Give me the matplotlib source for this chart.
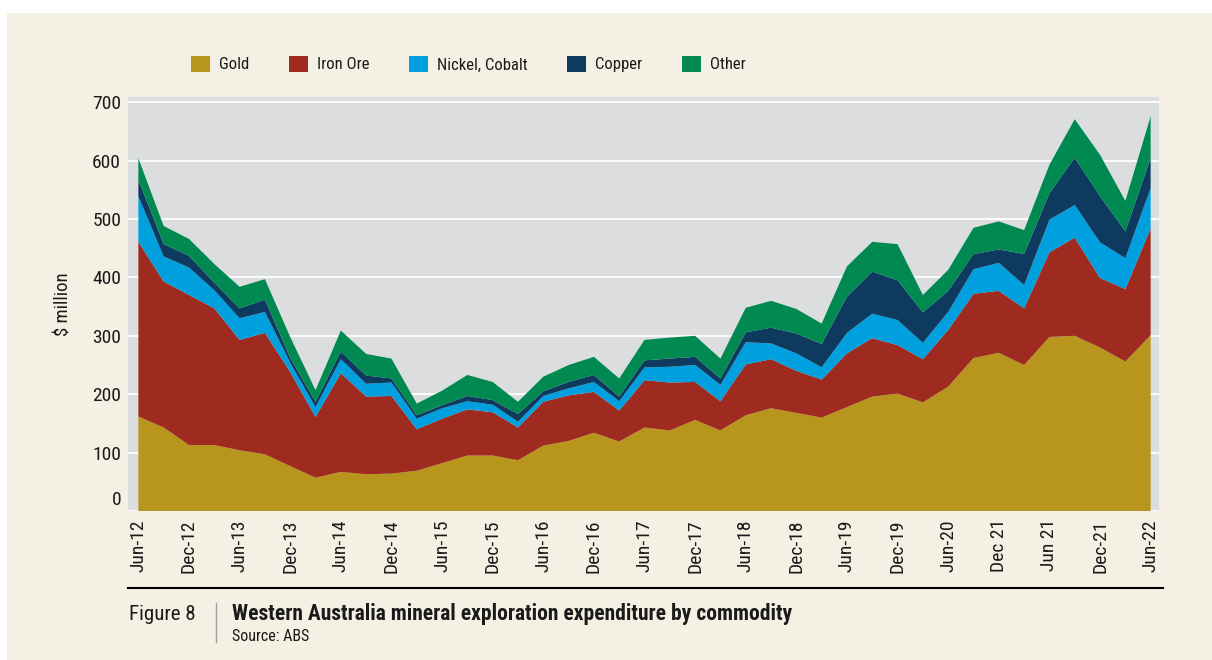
import matplotlib.pyplot as plt
import matplotlib.transforms as mtransforms
from matplotlib.patches import Rectangle, Patch
import numpy as np

# narrow sans like the original
plt.rcParams['font.family'] = ['Roboto Condensed', 'Liberation Sans', 'DejaVu Sans']

# quarterly data, Jun-12 .. Jun-22 ($ million)
gold = [162, 143, 113, 113, 104, 97, 77, 57, 67, 63, 64, 69, 82, 95, 95, 87, 112, 120, 134, 119,
        143, 138, 156, 138, 164, 176, 168, 160, 178, 196, 201, 186, 213, 262, 271, 250, 298, 300,
        280, 256, 301]
iron_ore = [299, 250, 257, 234, 189, 208, 161, 104, 169, 133, 133, 71, 76, 79, 74, 56, 75, 78, 70, 53,
            81, 82, 65, 50, 87, 84, 72, 65, 92, 100, 83, 74, 97, 110, 106, 97, 145, 168,
            119, 124, 183]
nickel_cobalt = [78, 43, 47, 31, 37, 36, 16, 17, 24, 22, 23, 18, 18, 14, 13, 10, 10, 12, 17, 16,
                 22, 27, 29, 28, 38, 27, 30, 21, 35, 42, 43, 28, 31, 42, 48, 40, 56, 56,
                 61, 53, 69]
copper = [28, 21, 20, 13, 17, 21, 8, 9, 13, 14, 7, 6, 5, 9, 8, 13, 8, 11, 12, 8,
          12, 14, 14, 11, 17, 27, 34, 40, 62, 72, 68, 52, 36, 26, 23, 53, 45, 81,
          79, 46, 51]
other = [37, 31, 29, 32, 37, 35, 36, 20, 36, 37, 34, 20, 25, 36, 31, 21, 25, 29, 31, 31,
         35, 36, 36, 34, 42, 46, 42, 35, 52, 51, 62, 30, 36, 45, 48, 41, 49, 66,
         71, 52, 72]

series_names = ['Gold', 'Iron Ore', 'Nickel, Cobalt', 'Copper', 'Other']
colors = ['#B8961E', '#9E2A20', '#00A0DF', '#0F3A5F', '#008A52']

tick_labels = ['Jun-12', 'Dec-12', 'Jun-13', 'Dec-13', 'Jun-14', 'Dec-14', 'Jun-15', 'Dec-15',
               'Jun-16', 'Dec-16', 'Jun-17', 'Dec-17', 'Jun-18', 'Dec-18', 'Jun-19', 'Dec-19',
               'Jun-20', 'Dec 21', 'Jun 21', 'Dec-21', 'Jun-22']
y_ticks = [0, 100, 200, 300, 400, 500, 600, 700]

W, H = 1212, 660
fig = plt.figure(figsize=(W / 100, H / 100), dpi=100, facecolor='white')

# cream panel behind everything
fig.patches.append(Rectangle((7 / W, 0), 1 - 7 / W, 1 - 13 / H, transform=fig.transFigure,
                             facecolor='#F4F0E3', edgecolor='none', zorder=-10))

ax = fig.add_axes([128 / W, (H - 511) / H, (1159 - 128) / W, (511 - 97) / H])
ax.set_facecolor('#DCDDDF')

x = np.arange(len(gold))
ax.stackplot(x, gold, iron_ore, nickel_cobalt, copper, other, colors=colors,
             linewidth=0, zorder=2)

ax.set_xlim(-0.41, 40.33)
ax.set_ylim(0, 709)
ax.set_yticks(y_ticks)
ax.grid(axis='y', color='white', linewidth=1.3, zorder=1)
ax.set_axisbelow(True)
for s in ax.spines.values():
    s.set_visible(False)

ax.set_xticks(x[::2])
ax.set_xticklabels(tick_labels, rotation=90, fontsize=14, va='top', ha='center')
ax.tick_params(axis='x', length=0, pad=6, colors='#1a1a1a')
ax.tick_params(axis='y', length=0, pad=5, labelsize=14, colors='#1a1a1a')

# the zero label sits a bit higher in the original
zl = ax.get_yticklabels()[0]
zl.set_transform(zl.get_transform() + mtransforms.ScaledTranslation(0, 13 / 100, fig.dpi_scale_trans))

ax.set_ylabel('\\$ million', fontsize=13.5, color='#1a1a1a', labelpad=14)

# legend across the top
handles = [Patch(facecolor=c, edgecolor='none') for c in colors]
fig.legend(handles, series_names, loc='center left', bbox_to_anchor=(176 / W, 1 - 64 / H),
           ncol=5, frameon=False, fontsize=12, handlelength=1.15, handleheight=1.15,
           handletextpad=0.55, columnspacing=2.35, labelcolor='#1a1a1a')

# caption block
fig.add_artist(plt.Line2D([128 / W, 1163 / W], [1 - 588 / H, 1 - 588 / H],
                          transform=fig.transFigure, color='black', linewidth=1.5))
fig.add_artist(plt.Line2D([216 / W, 216 / W], [1 - 603 / H, 1 - 642 / H],
                          transform=fig.transFigure, color='#A0A0A0', linewidth=1))
fig.text(129 / W, 1 - 620 / H, 'Figure 8', fontsize=15, color='#1a1a1a', va='baseline')
fig.text(232 / W, 1 - 620 / H, 'Western Australia mineral exploration expenditure by commodity',
         fontsize=15.5, fontweight='bold', color='#1a1a1a', va='baseline')
fig.text(232 / W, 1 - 641 / H, 'Source: ABS', fontsize=11.5, color='#1a1a1a', va='baseline')

fig.savefig('out.png', dpi=100, facecolor=fig.get_facecolor())
